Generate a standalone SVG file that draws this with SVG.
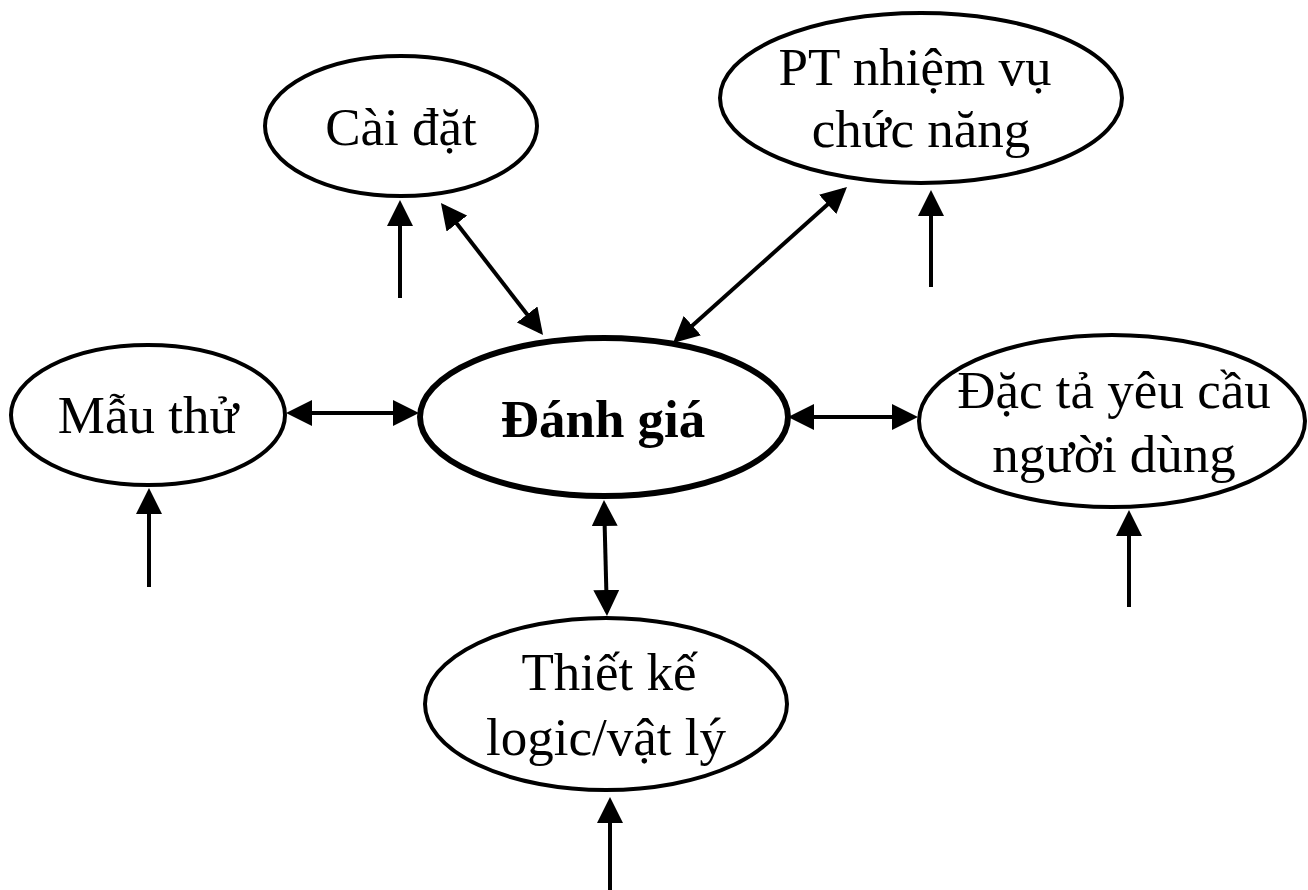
<svg xmlns="http://www.w3.org/2000/svg" width="1308" height="890" viewBox="0 0 1308 890">
<style>
.node ellipse{fill:#fff;stroke:#000;stroke-width:4}
.node.main ellipse{stroke-width:6}
text{font-family:"Liberation Serif","Times New Roman",serif;font-size:53px;fill:#000;text-anchor:middle}
.bold{font-weight:bold}
#connectors line{stroke:#000;stroke-width:4;fill:none}
</style>
<defs>
<marker id="ah" markerUnits="userSpaceOnUse" markerWidth="26" markerHeight="26" refX="22" refY="13" orient="auto-start-reverse" viewBox="0 0 26 26">
<path d="M0,0 L26,13 L0,26 z" fill="#000"/>
</marker>
</defs>
<rect width="1308" height="890" fill="#fff"/>
<g id="connectors">
<line x1="400" y1="298" x2="400" y2="204" marker-end="url(#ah)"/>
<line x1="443.4" y1="206.2" x2="540.6" y2="331.8" marker-start="url(#ah)" marker-end="url(#ah)"/>
<line x1="844" y1="189.7" x2="676" y2="340.3" marker-start="url(#ah)" marker-end="url(#ah)"/>
<line x1="931" y1="287" x2="931" y2="194" marker-end="url(#ah)"/>
<line x1="290" y1="413" x2="415" y2="413" marker-start="url(#ah)" marker-end="url(#ah)"/>
<line x1="792" y1="417" x2="914" y2="417" marker-start="url(#ah)" marker-end="url(#ah)"/>
<line x1="149" y1="587" x2="149" y2="492" marker-end="url(#ah)"/>
<line x1="1129" y1="607" x2="1129" y2="514" marker-end="url(#ah)"/>
<line x1="604.1" y1="504" x2="606.9" y2="612" marker-start="url(#ah)" marker-end="url(#ah)"/>
<line x1="610" y1="890" x2="610" y2="801" marker-end="url(#ah)"/>
</g>
<g id="caidat" class="node">
<ellipse cx="401" cy="126" rx="136" ry="70"/>
<text x="401" y="145">Cài đặt</text>
</g>
<g id="ptnhiemvu" class="node">
<ellipse cx="921" cy="98" rx="201" ry="85"/>
<text x="915" y="85">PT nhiệm vụ</text>
<text x="921" y="147">chức năng</text>
</g>
<g id="mauthu" class="node">
<ellipse cx="148" cy="415" rx="137" ry="70"/>
<text x="148" y="433">Mẫu thử</text>
</g>
<g id="danhgia" class="node main">
<ellipse cx="604" cy="417" rx="184" ry="79"/>
<text class="bold" x="603" y="437">Đánh giá</text>
</g>
<g id="dacta" class="node">
<ellipse cx="1112" cy="421" rx="193" ry="86"/>
<text x="1114" y="408">Đặc tả yêu cầu</text>
<text x="1114" y="472">người dùng</text>
</g>
<g id="thietke" class="node">
<ellipse cx="606" cy="704" rx="181" ry="86"/>
<text x="609" y="690">Thiết kế</text>
<text x="606" y="755">logic/vật lý</text>
</g>
</svg>
